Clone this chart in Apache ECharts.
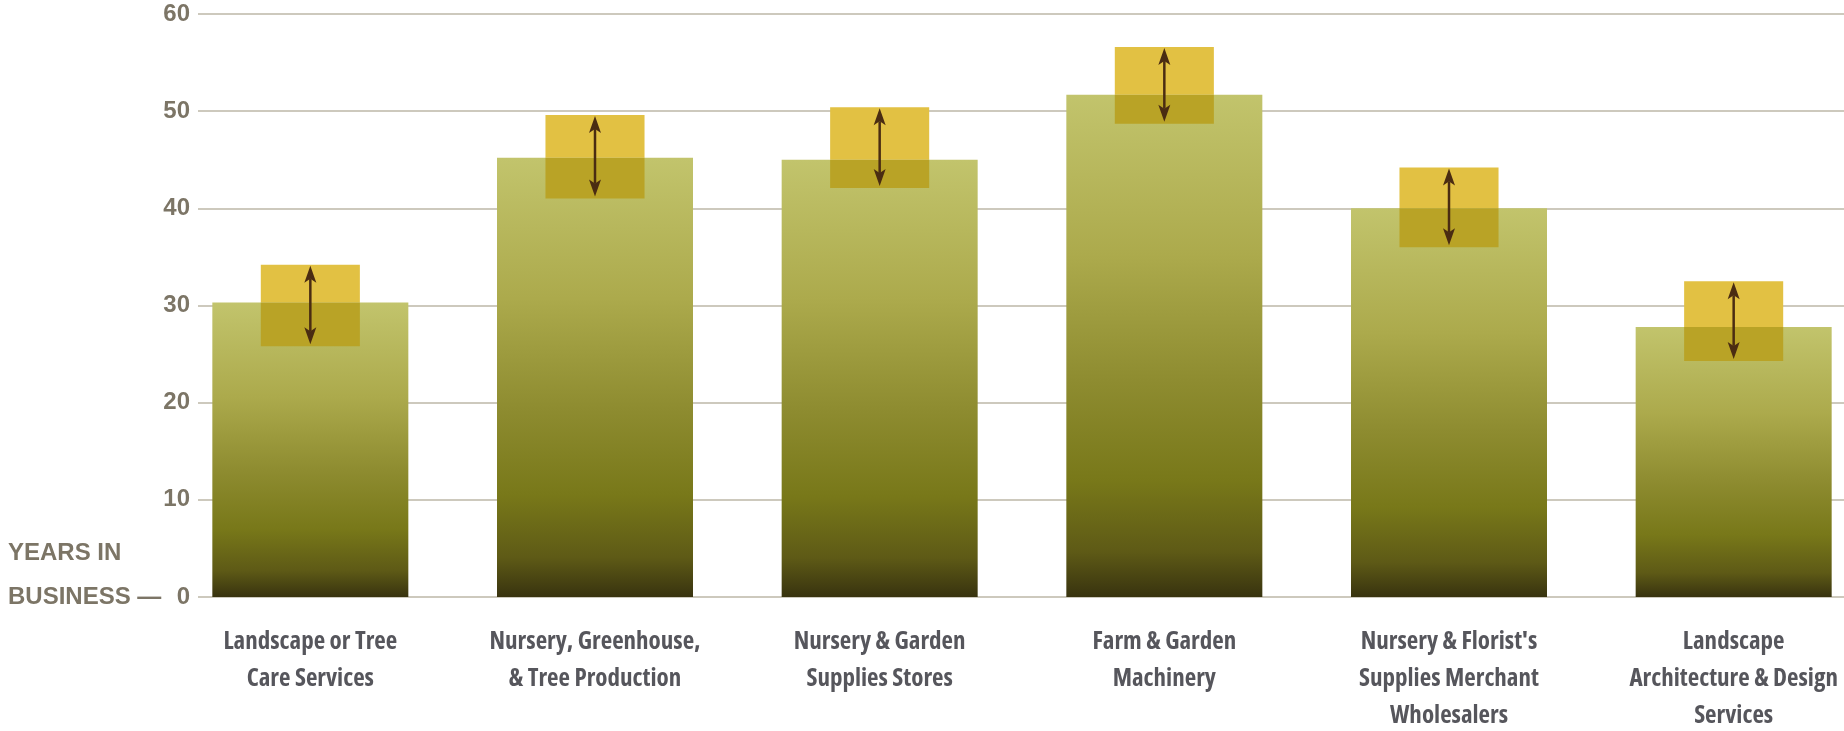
<!DOCTYPE html>
<html>
<head>
<meta charset="utf-8">
<script src="https://cdn.jsdelivr.net/npm/echarts@6/dist/echarts.min.js"></script>
<style>
html,body{margin:0;padding:0;background:#fff;}
#chart{width:1844px;height:731px;}
</style>
</head>
<body>
<div id="chart"></div>
<script>
const categories = [
  'Landscape or Tree\nCare Services',
  'Nursery, Greenhouse,\n& Tree Production',
  'Nursery & Garden\nSupplies Stores',
  'Farm & Garden\nMachinery',
  "Nursery & Florist's\nSupplies Merchant\nWholesalers",
  'Landscape\nArchitecture & Design\nServices'
];
const yearsInBusiness = [30.3, 45.2, 45.0, 51.7, 40.0, 27.8];
const rangeLow  = [25.8, 41.0, 42.1, 48.7, 36.0, 24.3];
const rangeHigh = [34.2, 49.6, 50.4, 56.6, 44.2, 32.5];
const yTicks = [0, 10, 20, 30, 40, 50, 60];

const chart = echarts.init(document.getElementById('chart'));

const barGradient = new echarts.graphic.LinearGradient(0, 0, 0, 1, [
  {offset: 0, color: '#c2c46c'},
  {offset: 0.32, color: '#acaa4c'},
  {offset: 0.57, color: '#8e8c30'},
  {offset: 0.77, color: '#787819'},
  {offset: 0.91, color: '#5e5a16'},
  {offset: 1, color: '#38330f'}
]);

const boxData = categories.map((c, i) => [i, rangeLow[i], rangeHigh[i], yearsInBusiness[i]]);

chart.setOption({
  animation: false,
  backgroundColor: '#ffffff',
  grid: [
    {left: 198, right: 0, top: 14, bottom: 134, outerBoundsMode: 'none'},
    {left: 168, width: 1708, top: 14, bottom: 134, outerBoundsMode: 'none'}
  ],
  xAxis: [
    {gridIndex: 0, type: 'value', show: false, min: 0, max: 1},
    {
      gridIndex: 1, type: 'category', data: categories,
      axisLine: {show: false}, axisTick: {show: false},
      axisLabel: {
        interval: 0, margin: 26, fontSize: 25, lineHeight: 37,
        fontWeight: 'bold condensed', fontFamily: "'Open Sans'", color: '#56565c'
      }
    }
  ],
  yAxis: [
    {
      gridIndex: 0, type: 'value', min: yTicks[0], max: yTicks[yTicks.length - 1], interval: 10,
      axisLine: {show: false}, axisTick: {show: false},
      axisLabel: {margin: 8, fontSize: 24, fontWeight: 'bold', fontFamily: "'Liberation Sans',sans-serif", color: '#7c7566'},
      splitLine: {lineStyle: {color: '#cdc9bd', width: 2}}
    },
    {
      gridIndex: 1, type: 'value', min: yTicks[0], max: yTicks[yTicks.length - 1], interval: 10,
      show: false, splitLine: {show: false}
    }
  ],
  series: [
    {
      type: 'bar', xAxisIndex: 1, yAxisIndex: 1,
      data: yearsInBusiness, barWidth: 196,
      itemStyle: {color: barGradient}, z: 2
    },
    {
      type: 'custom', xAxisIndex: 1, yAxisIndex: 1, z: 3,
      data: boxData,
      renderItem: function (params, api) {
        const i = api.value(0);
        const lo = api.coord([i, api.value(1)]);
        const hi = api.coord([i, api.value(2)]);
        const mid = api.coord([i, api.value(3)]);
        const w = api.size([1, 0])[0] * 0.348;
        const x = lo[0];
        const x0 = x - w / 2;
        const aw = 6, ah = 17, ac = 4;
        const top = hi[1] + 1, bot = lo[1] - 2;
        const col = '#4a2c12';
        return {
          type: 'group',
          children: [
            {type: 'rect', shape: {x: x0, y: hi[1], width: w, height: mid[1] - hi[1]},
             style: {fill: '#e2c143'}},
            {type: 'rect', shape: {x: x0, y: mid[1], width: w, height: lo[1] - mid[1]},
             style: {fill: '#b9a326'}},
            {type: 'line', shape: {x1: x, y1: top + ah - ac, x2: x, y2: bot - ah + ac},
             style: {stroke: col, lineWidth: 2.5}},
            {type: 'polygon', shape: {points: [[x, top], [x + aw, top + ah], [x, top + ah - ac], [x - aw, top + ah]]},
             style: {fill: col}},
            {type: 'polygon', shape: {points: [[x, bot], [x + aw, bot - ah], [x, bot - ah + ac], [x - aw, bot - ah]]},
             style: {fill: col}}
          ]
        };
      }
    }
  ],
  graphic: [
    {type: 'text', left: 8, top: 541, style: {text: 'YEARS IN', fontSize: 24, fontWeight: 'bold', fontFamily: "'Liberation Sans',sans-serif", fill: '#7c7566'}},
    {type: 'text', left: 8, top: 585, style: {text: 'BUSINESS —', fontSize: 24, fontWeight: 'bold', fontFamily: "'Liberation Sans',sans-serif", fill: '#7c7566'}}
  ]
});
</script>
</body>
</html>
